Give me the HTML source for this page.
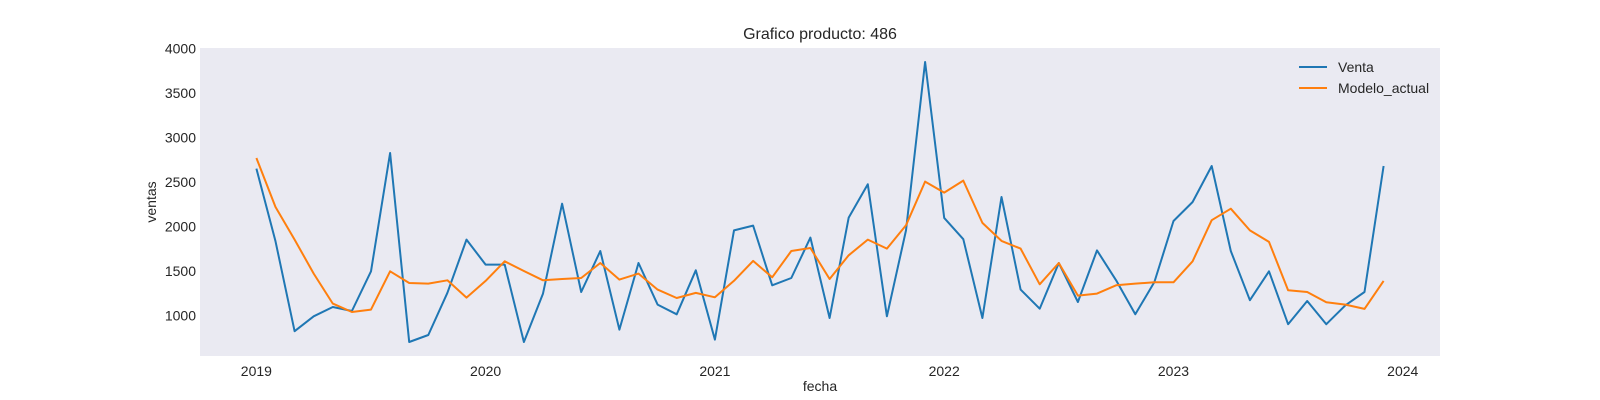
<!DOCTYPE html>
<html><head><meta charset="utf-8"><style>
html,body{margin:0;padding:0;background:#fff;}
svg{display:block;font-family:"Liberation Sans",Arial,sans-serif;}
</style></head><body>
<svg id="chart" width="1600" height="400" viewBox="0 0 1600 400">
<rect x="200" y="48" width="1240" height="308" fill="#EAEAF2"/>
<text x="820" y="39" font-size="16" text-anchor="middle" fill="#262626">Grafico producto: 486</text>
<text transform="translate(156,202) rotate(-90)" font-size="14" text-anchor="middle" fill="#262626">ventas</text>
<text x="820" y="391" font-size="14" text-anchor="middle" fill="#262626">fecha</text>
<g id="yticks"></g><g id="xticks"></g><g id="lines"></g>
<g>
<line x1="1299" y1="67" x2="1327" y2="67" stroke="#1f77b4" stroke-width="2"/>
<text x="1338" y="72" font-size="14" fill="#262626">Venta</text>
<line x1="1299" y1="88" x2="1327" y2="88" stroke="#ff7f0e" stroke-width="2"/>
<text x="1338" y="93" font-size="14" fill="#262626">Modelo_actual</text>
</g>
</svg>
<script>
const startYear = 2019;
const yearTicks = ["2019","2020","2021","2022","2023","2024"];
const yTickValues = [1000,1500,2000,2500,3000,3500,4000];
const venta = [2651,1833,821,989,1094,1049,1495,2826,700,779,1253,1852,
1571,1571,700,1244,2256,1263,1724,839,1589,1121,1012,1507,
727,1956,2009,1338,1420,1875,970,2100,2474,989,1956,3850,
2096,1856,970,2331,1290,1075,1589,1150,1731,1394,1012,1375,
2061,2275,2680,1724,1170,1495,900,1161,900,1113,1263,2680];
const modelo = [2770,2219,1852,1470,1132,1038,1065,1495,1364,1357,1394,1200,
1387,1608,1499,1394,1409,1420,1589,1402,1470,1290,1195,1252,
1203,1388,1612,1428,1724,1757,1409,1675,1852,1751,2013,2505,
2381,2516,2040,1837,1751,1349,1589,1222,1244,1338,1357,1372,
1372,1608,2070,2200,1956,1826,1282,1263,1147,1121,1072,1387];

const NS="http://www.w3.org/2000/svg";
const L=200,R=1440,T=48,B=356;
const n=venta.length;
const xmin=0,xmax=n-1,xpad=(xmax-xmin)*0.05;
function xScale(m){return L+(m-(xmin-xpad))/((xmax+xpad)-(xmin-xpad))*(R-L);}
const all=venta.concat(modelo);
const dmin=Math.min(...all),dmax=Math.max(...all),ypad=(dmax-dmin)*0.05;
const y0=dmin-ypad,y1=dmax+ypad;
function yScale(v){return B-(v-y0)/(y1-y0)*(B-T);}

const yt=document.getElementById('yticks');
yTickValues.forEach(v=>{
  const t=document.createElementNS(NS,'text');
  
  
  t.setAttribute('x',196);t.setAttribute('y',yScale(v)+5);
  t.setAttribute('font-size','14');t.setAttribute('text-anchor','end');t.setAttribute('fill','#262626');
  t.textContent=v;yt.appendChild(t);
});
const xt=document.getElementById('xticks');
yearTicks.forEach(y=>{
  const m=(parseInt(y)-startYear)*12;
  const t=document.createElementNS(NS,'text');
  
  
  t.setAttribute('x',xScale(m));t.setAttribute('y',376);
  t.setAttribute('font-size','14');t.setAttribute('text-anchor','middle');t.setAttribute('fill','#262626');
  t.textContent=y;xt.appendChild(t);
});
const lg=document.getElementById('lines');
function drawLine(arr,color,name){
  const p=document.createElementNS(NS,'polyline');
  
  
  p.setAttribute('points',arr.map((v,i)=>xScale(i).toFixed(1)+','+yScale(v).toFixed(1)).join(' '));
  p.setAttribute('fill','none');p.setAttribute('stroke',color);p.setAttribute('stroke-width','2');
  p.setAttribute('stroke-linejoin','round');
  lg.appendChild(p);
}
drawLine(venta,'#1f77b4','venta-line');
drawLine(modelo,'#ff7f0e','modelo-actual-line');
</script>
</body></html>
